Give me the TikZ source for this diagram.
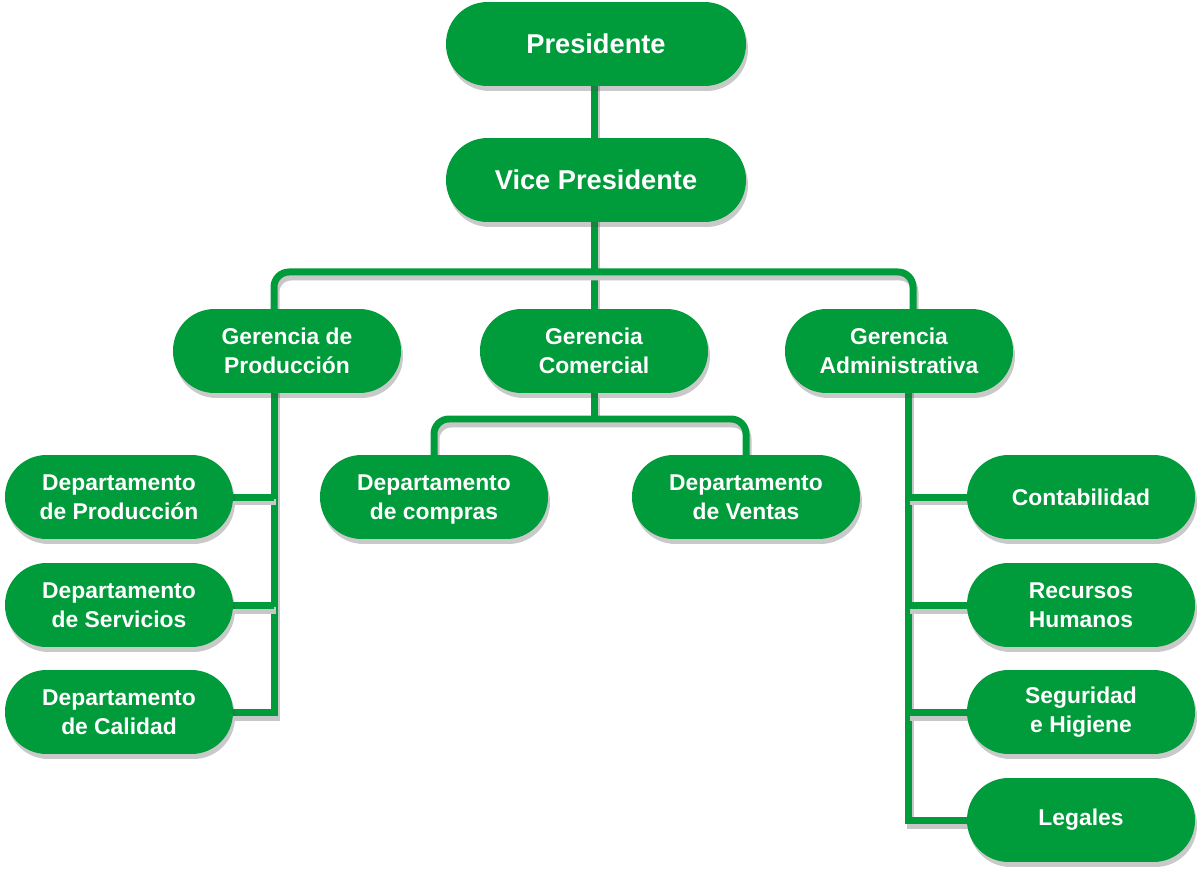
\documentclass[tikz,border=0pt]{standalone}
\usepackage{fontspec}
\setmainfont{Liberation Sans}
\usetikzlibrary{shadows,backgrounds}
\definecolor{verde}{RGB}{0,155,58}
\tikzset{caja/.style={fill=verde, text=white, rounded corners=0.83cm, minimum width=4.56cm, minimum height=1.68cm, inner sep=0pt, align=center, font=\bfseries\fontsize{13}{16.5}\selectfont, drop shadow={shadow xshift=0.04cm, shadow yshift=-0.1cm, opacity=0.3, fill=black!70}},
  cajagrande/.style={caja, minimum width=6cm, font=\bfseries\fontsize{15.5}{18}\selectfont},
  enlace/.style={draw=verde, line width=0.14cm, preaction={draw=black!22, line width=0.14cm, transform canvas={shift={(0.04cm,-0.1cm)}}}}}

\begin{document}
\begin{tikzpicture}[x=0.02cm,y=-0.02cm]
  \useasboundingbox (0,0) rectangle (1200,878);
  % cabeza
  \node[cajagrande] (pres) at (596,44)  {Presidente};
  \node[cajagrande] (vp)   at (596,180) {Vice Presidente};
  % gerencias
  \node[caja] (gprod) at (287,351) {Gerencia de\\Producción};
  \node[caja] (gcom)  at (594,351) {Gerencia\\Comercial};
  \node[caja] (gadm)  at (899,351) {Gerencia\\Administrativa};
  % departamentos
  \node[caja] (dprod) at (119,497) {Departamento\\de Producción};
  \node[caja] (dserv) at (119,605) {Departamento\\de Servicios};
  \node[caja] (dcal)  at (119,712) {Departamento\\de Calidad};
  \node[caja] (dcom)  at (434,497) {Departamento\\\smash{de compras}};
  \node[caja] (dven)  at (746,497) {Departamento\\de Ventas};
  \node[caja] (cont)  at (1081,497) {Contabilidad};
  \node[caja] (rrhh)  at (1081,605) {Recursos\\Humanos};
  \node[caja] (seg)   at (1081,712) {Seguridad\\e Higiene};
  \node[caja] (leg)   at (1081,820) {Legales};
  % conectores
  \begin{scope}[on background layer]
   \coordinate (barra)  at (594,272);
   \coordinate (barrac) at (594,419);
   \coordinate (ei) at ([xshift=-0.26cm]gprod.center);
   \coordinate (ed) at ([xshift=0.18cm]gadm.center);
   \draw[enlace] (barra |- pres) -- (barra |- vp);
   \draw[enlace] (barra |- vp) -- (barra) -- (gcom);
   \draw[enlace, rounded corners=0.3cm] ([xshift=-0.26cm]gprod.center) |- (barra) -| ([xshift=0.28cm]gadm.center);
   \draw[enlace] (ei) |- (dcal.east);
   \foreach \n in {dprod,dserv} \draw[enlace] (\n.east) -- (\n.east -| ei);
   \draw[enlace] (gcom) -- (barrac);
   \draw[enlace, rounded corners=0.3cm] (dcom.center) |- (barrac) -| (dven.center);
   \draw[enlace] (ed) |- (leg.west);
   \foreach \n in {cont,rrhh,seg} \draw[enlace] (\n.west) -- (\n.west -| ed);
  \end{scope}
\end{tikzpicture}
\end{document}
